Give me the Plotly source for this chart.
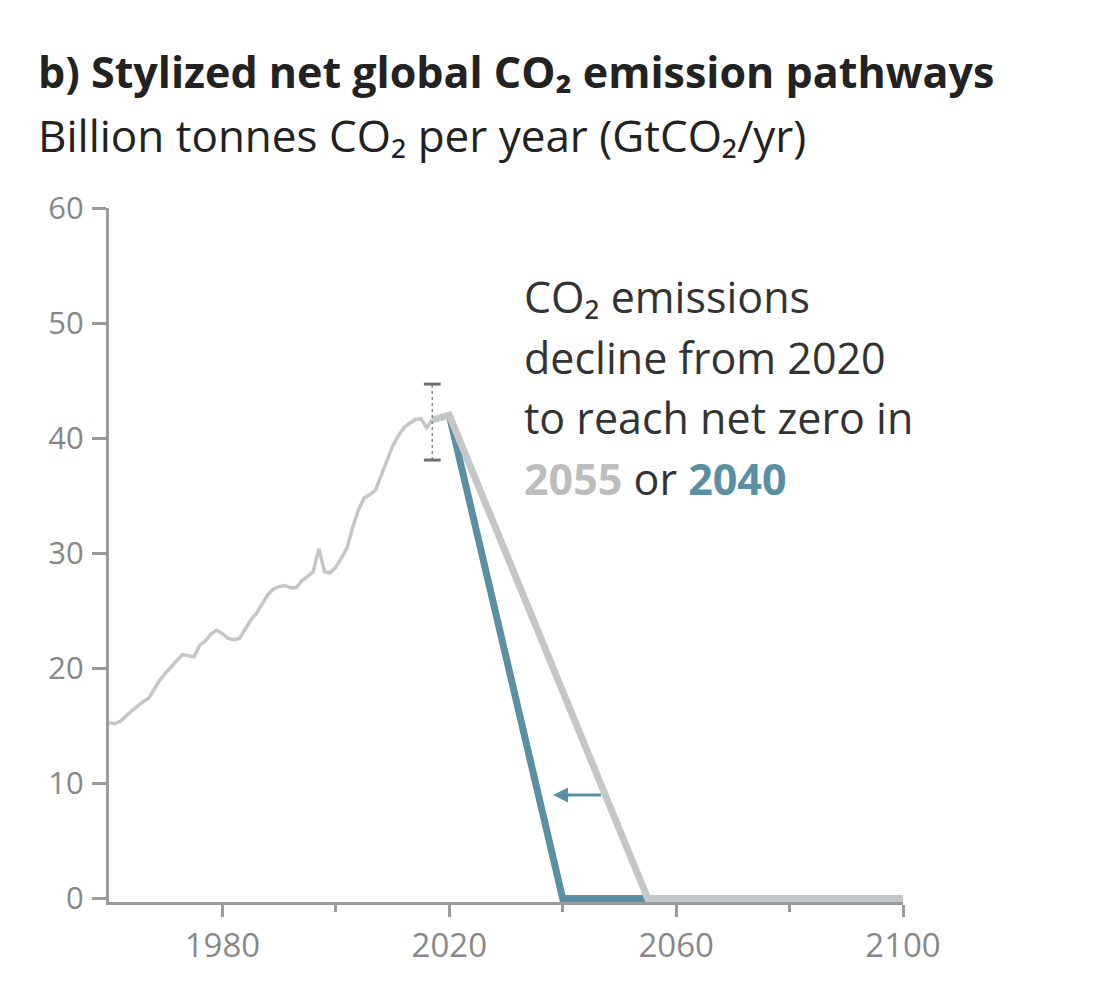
import plotly.graph_objects as go

# historical net CO2 emissions (GtCO2/yr)
hist_years = list(range(1960, 2018))
hist_values = [
    15.3, 15.2, 15.4, 15.9, 16.3, 16.7, 17.1, 17.4, 18.2, 19.0,
    19.6, 20.2, 20.7, 21.2, 21.1, 21.0, 22.0, 22.4, 23.0, 23.3,
    23.0, 22.6, 22.5, 22.6, 23.4, 24.2, 24.8, 25.6, 26.4, 26.9,
    27.1, 27.2, 27.0, 27.0, 27.6, 28.0, 28.4, 30.4, 28.4, 28.3,
    28.8, 29.6, 30.5, 32.3, 33.8, 34.8, 35.1, 35.5, 36.8, 38.1,
    39.3, 40.2, 40.9, 41.3, 41.6, 41.7, 40.9, 41.6,
]

# stylized pathways
path_2055_years = [2017, 2020, 2055, 2100]
path_2055_values = [41.6, 42.0, 0, 0]
path_2040_years = [2020, 2040, 2055]
path_2040_values = [42.0, 0, 0]

# uncertainty bar
err_year = [2017, 2017]
err_range = [38.1, 44.7]

# arrow showing the shift to earlier net zero
arrow_from = (2047, 9)
arrow_to = (2038.3, 9)

x_major = [1980, 2020, 2060, 2100]
x_minor = [2000, 2040, 2080]
y_ticks = [0, 10, 20, 30, 40, 50, 60]

note_lines = [
    "CO₂ emissions",
    "decline from 2020",
    "to reach net zero in",
    "<b><span style='color:#bdbdbd'>2055</span></b> or "
    "<b><span style='color:#5b8fa3'>2040</span></b>",
]
note_y = [52.3, 47.0, 41.8, 36.5]

BLUE = "#5b8fa3"
GREY_PATH = "#c4c6c7"
GREY_HIST = "#c6c6c6"
AXIS = "#9b9b9b"
FONT = "Open Sans"

fig = go.Figure()

fig.add_trace(go.Scatter(
    x=hist_years, y=hist_values, mode="lines",
    line=dict(color=GREY_HIST, width=3.5), hoverinfo="skip",
))
fig.add_trace(go.Scatter(
    x=path_2040_years, y=path_2040_values, mode="lines",
    line=dict(color=BLUE, width=7), hoverinfo="skip",
))
fig.add_trace(go.Scatter(
    x=path_2055_years, y=path_2055_values, mode="lines",
    line=dict(color=GREY_PATH, width=7), hoverinfo="skip",
))
fig.add_trace(go.Scatter(
    x=err_year, y=err_range, mode="lines+markers",
    line=dict(color="#8a8a8a", width=1.5, dash="dot"),
    marker=dict(symbol="line-ew", size=12, line=dict(color="#707070", width=3)),
    hoverinfo="skip",
))

fig.add_annotation(
    x=arrow_to[0], y=arrow_to[1], ax=arrow_from[0], ay=arrow_from[1],
    xref="x", yref="y", axref="x", ayref="y",
    showarrow=True, arrowhead=2, arrowsize=1, arrowwidth=3,
    arrowcolor=BLUE, text="",
)

for txt, yy in zip(note_lines, note_y):
    fig.add_annotation(
        x=2032.8, y=yy, xref="x", yref="y", text=txt, showarrow=False,
        xanchor="left", yanchor="middle", align="left",
        font=dict(family=FONT, size=43, color="#333333"),
    )

fig.add_annotation(
    x=-0.092, y=1.196, xref="paper", yref="paper",
    text="<b>b) Stylized net global CO₂ emission pathways</b>",
    showarrow=False, xanchor="left", yanchor="middle",
    font=dict(family=FONT, size=43, color="#222222"),
)
fig.add_annotation(
    x=-0.092, y=1.105, xref="paper", yref="paper",
    text="Billion tonnes CO₂ per year (GtCO₂/yr)",
    showarrow=False, xanchor="left", yanchor="middle",
    font=dict(family=FONT, size=44, color="#222222"),
)

fig.update_xaxes(
    range=[1960, 2100], tickvals=x_major, showgrid=False, zeroline=False,
    showline=True, linecolor=AXIS, linewidth=3,
    ticks="outside", ticklen=12, tickwidth=3, tickcolor=AXIS,
    minor=dict(tickvals=x_minor, ticks="outside", ticklen=7, tickwidth=3, tickcolor=AXIS),
    tickfont=dict(family=FONT, size=33, color="#888888"),
)
fig.update_yaxes(
    range=[-0.3, 60], tickvals=y_ticks, showgrid=False, zeroline=False,
    showline=True, linecolor=AXIS, linewidth=3,
    ticks="outside", ticklen=14, tickwidth=3, tickcolor=AXIS,
    ticklabelstandoff=2,
    tickfont=dict(family=FONT, size=31, color="#888888"),
)

fig.update_layout(
    width=1108, height=992,
    margin=dict(l=101, r=213, t=200, b=98),
    plot_bgcolor="white", paper_bgcolor="white",
    showlegend=False,
)

fig.write_html("out.html")
